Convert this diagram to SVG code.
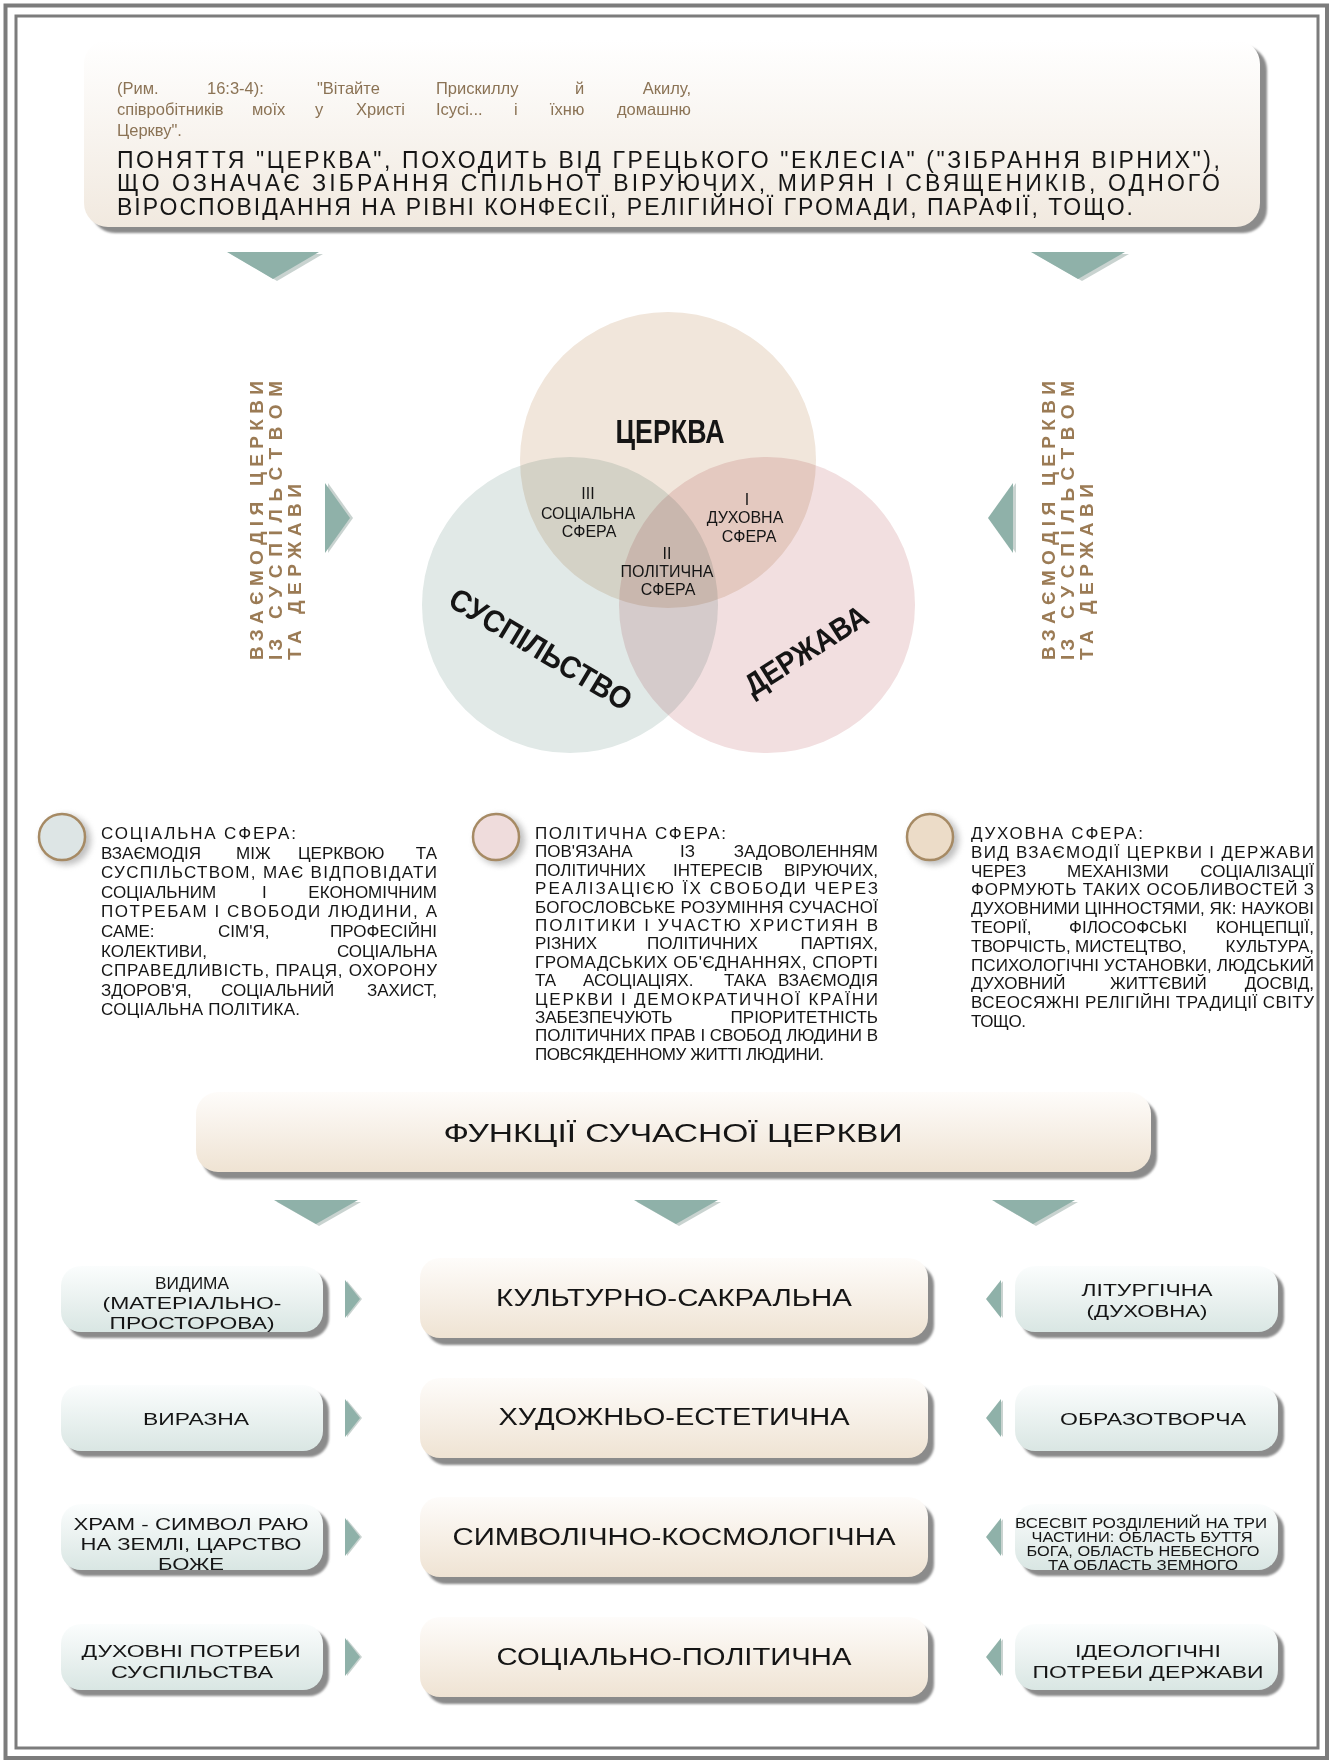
<svg xmlns="http://www.w3.org/2000/svg" width="1337" height="1762" viewBox="0 0 1337 1762">
<defs>
<linearGradient id="gTop" x1="0" y1="0" x2="0" y2="1"><stop offset="0" stop-color="#ffffff"/><stop offset="1" stop-color="#f1e9df"/></linearGradient>
<linearGradient id="gBeige" x1="0" y1="0" x2="0" y2="1"><stop offset="0" stop-color="#fefcfa"/><stop offset="1" stop-color="#efe3d3"/></linearGradient>
<linearGradient id="gTeal" x1="0" y1="0" x2="0" y2="1"><stop offset="0" stop-color="#fbfdfd"/><stop offset="1" stop-color="#d9e6e3"/></linearGradient>
<filter id="soft" x="-5%" y="-5%" width="110%" height="110%"><feGaussianBlur stdDeviation="1.2"/></filter>
<filter id="halo" x="-50%" y="-50%" width="200%" height="200%"><feGaussianBlur stdDeviation="3"/></filter>
</defs>
<style>
text{font-family:"Liberation Sans",Arial,sans-serif;fill:#151515}
.sh{fill:#8b8b8b;filter:url(#soft)}
.q{font-size:16.5px;fill:#8b7355}
.m{font-size:23px}
.b{font-size:17px}
.side{font-size:19px;font-weight:bold;fill:#9b7b55;letter-spacing:4px}
.vl{font-size:16px;text-anchor:middle}
.big{font-weight:bold;text-anchor:middle}
.c{text-anchor:middle}
.e{text-anchor:end}
.tri{fill:#8fb1a9}
.tris{fill:#c9d3d0}
.ctr{font-size:23px;text-anchor:middle}
.sm{font-size:17px;text-anchor:middle}
.xs{font-size:14px;text-anchor:middle}
.frame{fill:none;stroke:#7c7c7c}
</style>
<rect width="1337" height="1762" fill="#ffffff"/>
<rect class="frame" x="5.5" y="5.5" width="1321.5" height="1752.5" stroke-width="4"/>
<rect class="frame" x="16" y="16" width="1302" height="1732" stroke-width="3"/>

<g id="intro">
<rect class="sh" x="91" y="46" width="1176" height="187" rx="24"/>
<rect x="84" y="40" width="1176" height="187" rx="24" fill="url(#gTop)"/>
<text class="q" x="117" y="94">(Рим.</text>
<text class="q" x="207" y="94">16:3-4):</text>
<text class="q" x="317" y="94">"Вітайте</text>
<text class="q" x="436" y="94">Прискиллу</text>
<text class="q" x="575" y="94">й</text>
<text class="q e" x="691" y="94">Акилу,</text>
<text class="q" x="117" y="115">співробітників</text>
<text class="q" x="252" y="115">моїх</text>
<text class="q" x="315" y="115">у</text>
<text class="q" x="356" y="115">Христі</text>
<text class="q" x="436" y="115">Ісусі...</text>
<text class="q" x="514" y="115">і</text>
<text class="q" x="550" y="115">їхню</text>
<text class="q e" x="691" y="115">домашню</text>
<text class="q" x="117" y="136">Церкву".</text>
<text class="m" x="117" y="168" textLength="1103" lengthAdjust="spacing">ПОНЯТТЯ "ЦЕРКВА", ПОХОДИТЬ ВІД ГРЕЦЬКОГО "ЕКЛЕСІА" ("ЗІБРАННЯ ВІРНИХ"),</text>
<text class="m" x="117" y="191" textLength="1103" lengthAdjust="spacing">ЩО ОЗНАЧАЄ ЗІБРАННЯ СПІЛЬНОТ ВІРУЮЧИХ, МИРЯН І СВЯЩЕНИКІВ, ОДНОГО</text>
<text class="m" x="117" y="215" textLength="1016" lengthAdjust="spacing">ВІРОСПОВІДАННЯ НА РІВНІ КОНФЕСІЇ, РЕЛІГІЙНОЇ ГРОМАДИ, ПАРАФІЇ, ТОЩО.</text>
</g>

<g id="connectors">
<polygon class="tris" points="231,254 323,254 277,281"/>
<polygon class="tri" points="227,252 319,252 273,279"/>
<polygon class="tris" points="1035,254 1129,254 1082,281"/>
<polygon class="tri" points="1031,252 1125,252 1078,279"/>
<polygon class="tris" points="328,483 353,518 328,553"/>
<polygon class="tri" points="325,483 350,518 325,553"/>
<polygon class="tris" points="1016,483 991,518 1016,553"/>
<polygon class="tri" points="1013,483 988,518 1013,553"/>
<polygon class="tris" points="277,1202 361,1202 319,1226"/>
<polygon class="tri" points="274,1200 358,1200 316,1224"/>
<polygon class="tris" points="637,1202 721,1202 679,1226"/>
<polygon class="tri" points="634,1200 718,1200 676,1224"/>
<polygon class="tris" points="995,1202 1078,1202 1036,1226"/>
<polygon class="tri" points="992,1200 1075,1200 1033,1224"/>
<polygon class="tris" points="347,1281 362,1299 347,1318"/>
<polygon class="tri" points="345,1280 360,1299 345,1318"/>
<polygon class="tris" points="347,1400 362,1418 347,1437"/>
<polygon class="tri" points="345,1399 360,1418 345,1437"/>
<polygon class="tris" points="347,1519 362,1537 347,1556"/>
<polygon class="tri" points="345,1518 360,1537 345,1556"/>
<polygon class="tris" points="347,1639 362,1657 347,1676"/>
<polygon class="tri" points="345,1638 360,1657 345,1676"/>
<polygon class="tris" points="1003,1281 988,1299 1003,1318"/>
<polygon class="tri" points="1001,1280 986,1299 1001,1318"/>
<polygon class="tris" points="1003,1400 988,1418 1003,1437"/>
<polygon class="tri" points="1001,1399 986,1418 1001,1437"/>
<polygon class="tris" points="1003,1519 988,1537 1003,1556"/>
<polygon class="tri" points="1001,1518 986,1537 1001,1556"/>
<polygon class="tris" points="1003,1639 988,1657 1003,1676"/>
<polygon class="tri" points="1001,1638 986,1657 1001,1676"/>
</g>

<g id="side-left">
<text class="side" transform="translate(263,660) rotate(-90)" textLength="283" lengthAdjust="spacing">ВЗАЄМОДІЯ ЦЕРКВИ</text>
<text class="side" transform="translate(282,660) rotate(-90)">ІЗ</text>
<text class="side e" transform="translate(282,377) rotate(-90)" textLength="242" lengthAdjust="spacing">СУСПІЛЬСТВОМ</text>
<text class="side" transform="translate(301,660) rotate(-90)" textLength="180" lengthAdjust="spacing">ТА ДЕРЖАВИ</text>
</g>
<g id="side-right">
<text class="side" transform="translate(1055,660) rotate(-90)" textLength="283" lengthAdjust="spacing">ВЗАЄМОДІЯ ЦЕРКВИ</text>
<text class="side" transform="translate(1074,660) rotate(-90)">ІЗ</text>
<text class="side e" transform="translate(1074,377) rotate(-90)" textLength="242" lengthAdjust="spacing">СУСПІЛЬСТВОМ</text>
<text class="side" transform="translate(1093,660) rotate(-90)" textLength="180" lengthAdjust="spacing">ТА ДЕРЖАВИ</text>
</g>

<g id="venn" style="isolation:isolate">
<circle id="society" cx="570" cy="605" r="148" fill="#e1e9e7" style="mix-blend-mode:multiply"/>
<circle id="state" cx="767" cy="605" r="148" fill="#f2dfe0" style="mix-blend-mode:multiply"/>
<circle id="church" cx="668" cy="460" r="148" fill="#f1e6db" style="mix-blend-mode:multiply"/>
</g>
<g id="venn-labels">
<text class="big" x="670" y="443" font-size="33" textLength="109" lengthAdjust="spacingAndGlyphs">ЦЕРКВА</text>
<text class="big" transform="translate(541,649) rotate(31)" y="11" font-size="31" textLength="207" lengthAdjust="spacingAndGlyphs">СУСПІЛЬСТВО</text>
<text class="big" transform="translate(806,650) rotate(-32.5)" y="11" font-size="31" textLength="140" lengthAdjust="spacingAndGlyphs">ДЕРЖАВА</text>
<text class="vl" x="588" y="499">III</text>
<text class="vl" x="588" y="519">СОЦІАЛЬНА</text>
<text class="vl" x="589" y="537">СФЕРА</text>
<text class="vl" x="747" y="505">I</text>
<text class="vl" x="745" y="523">ДУХОВНА</text>
<text class="vl" x="749" y="542">СФЕРА</text>
<text class="vl" x="667" y="559">II</text>
<text class="vl" x="667" y="577">ПОЛІТИЧНА</text>
<text class="vl" x="668" y="595">СФЕРА</text>
</g>

<g id="sphere-social">
<circle cx="66" cy="840" r="25" fill="#8c8c8c" opacity="0.55" filter="url(#halo)"/>
<circle cx="62" cy="837" r="23" fill="#dde5e5" stroke="#a68a64" stroke-width="2.5"/>
<text class="b" x="101" y="839" textLength="195" lengthAdjust="spacing">СОЦІАЛЬНА СФЕРА:</text>
<text class="b" x="101" y="858.6">ВЗАЄМОДІЯ</text><text class="b" x="236" y="858.6">МІЖ</text><text class="b" x="298" y="858.6">ЦЕРКВОЮ</text><text class="b e" x="437" y="858.6">ТА</text>
<text class="b" x="101" y="878.2" textLength="336" lengthAdjust="spacing">СУСПІЛЬСТВОМ, МАЄ ВІДПОВІДАТИ</text>
<text class="b" x="101" y="897.8">СОЦІАЛЬНИМ</text><text class="b" x="262" y="897.8">І</text><text class="b e" x="437" y="897.8">ЕКОНОМІЧНИМ</text>
<text class="b" x="101" y="917.4" textLength="336" lengthAdjust="spacing">ПОТРЕБАМ І СВОБОДИ ЛЮДИНИ, А</text>
<text class="b" x="101" y="937">САМЕ:</text><text class="b" x="218" y="937">СІМ'Я,</text><text class="b e" x="437" y="937">ПРОФЕСІЙНІ</text>
<text class="b" x="101" y="956.6">КОЛЕКТИВИ,</text><text class="b e" x="437" y="956.6">СОЦІАЛЬНА</text>
<text class="b" x="101" y="976.2" textLength="336" lengthAdjust="spacing">СПРАВЕДЛИВІСТЬ, ПРАЦЯ, ОХОРОНУ</text>
<text class="b" x="101" y="995.8">ЗДОРОВ'Я,</text><text class="b" x="221" y="995.8">СОЦІАЛЬНИЙ</text><text class="b e" x="437" y="995.8">ЗАХИСТ,</text>
<text class="b" x="101" y="1015.4" textLength="199" lengthAdjust="spacing">СОЦІАЛЬНА ПОЛІТИКА.</text>
</g>

<g id="sphere-political">
<circle cx="500" cy="840" r="25" fill="#8c8c8c" opacity="0.55" filter="url(#halo)"/>
<circle cx="496" cy="837" r="23" fill="#efdcdc" stroke="#a68a64" stroke-width="2.5"/>
<text class="b" x="535" y="839" textLength="191" lengthAdjust="spacing">ПОЛІТИЧНА СФЕРА:</text>
<text class="b" x="535" y="857.4">ПОВ'ЯЗАНА</text><text class="b" x="680" y="857.4">ІЗ</text><text class="b e" x="878" y="857.4">ЗАДОВОЛЕННЯМ</text>
<text class="b" x="535" y="875.8">ПОЛІТИЧНИХ</text><text class="b" x="673" y="875.8">ІНТЕРЕСІВ</text><text class="b e" x="878" y="875.8">ВІРУЮЧИХ,</text>
<text class="b" x="535" y="894.2" textLength="343" lengthAdjust="spacing">РЕАЛІЗАЦІЄЮ ЇХ СВОБОДИ ЧЕРЕЗ</text>
<text class="b" x="535" y="912.6" textLength="343" lengthAdjust="spacing">БОГОСЛОВСЬКЕ РОЗУМІННЯ СУЧАСНОЇ</text>
<text class="b" x="535" y="931" textLength="343" lengthAdjust="spacing">ПОЛІТИКИ І УЧАСТЮ ХРИСТИЯН В</text>
<text class="b" x="535" y="949.4">РІЗНИХ</text><text class="b" x="647" y="949.4">ПОЛІТИЧНИХ</text><text class="b e" x="878" y="949.4">ПАРТІЯХ,</text>
<text class="b" x="535" y="967.8" textLength="343" lengthAdjust="spacing">ГРОМАДСЬКИХ ОБ'ЄДНАННЯХ, СПОРТІ</text>
<text class="b" x="535" y="986.2">ТА</text><text class="b" x="583" y="986.2">АСОЦІАЦІЯХ.</text><text class="b" x="724" y="986.2">ТАКА</text><text class="b e" x="878" y="986.2">ВЗАЄМОДІЯ</text>
<text class="b" x="535" y="1004.6" textLength="343" lengthAdjust="spacing">ЦЕРКВИ І ДЕМОКРАТИЧНОЇ КРАЇНИ</text>
<text class="b" x="535" y="1023">ЗАБЕЗПЕЧУЮТЬ</text><text class="b e" x="878" y="1023">ПРІОРИТЕТНІСТЬ</text>
<text class="b" x="535" y="1041.4" textLength="343" lengthAdjust="spacing">ПОЛІТИЧНИХ ПРАВ І СВОБОД ЛЮДИНИ В</text>
<text class="b" x="535" y="1059.8" textLength="289" lengthAdjust="spacing">ПОВСЯКДЕННОМУ ЖИТТІ ЛЮДИНИ.</text>
</g>

<g id="sphere-spiritual">
<circle cx="934" cy="840" r="25" fill="#8c8c8c" opacity="0.55" filter="url(#halo)"/>
<circle cx="930" cy="837" r="23" fill="#ecdcc8" stroke="#a68a64" stroke-width="2.5"/>
<text class="b" x="971" y="839" textLength="172" lengthAdjust="spacing">ДУХОВНА СФЕРА:</text>
<text class="b" x="971" y="857.8" textLength="343" lengthAdjust="spacing">ВИД ВЗАЄМОДІЇ ЦЕРКВИ І ДЕРЖАВИ</text>
<text class="b" x="971" y="876.6">ЧЕРЕЗ</text><text class="b" x="1067" y="876.6">МЕХАНІЗМИ</text><text class="b e" x="1314" y="876.6">СОЦІАЛІЗАЦІЇ</text>
<text class="b" x="971" y="895.4" textLength="343" lengthAdjust="spacing">ФОРМУЮТЬ ТАКИХ ОСОБЛИВОСТЕЙ З</text>
<text class="b" x="971" y="914.2" textLength="343" lengthAdjust="spacing">ДУХОВНИМИ ЦІННОСТЯМИ, ЯК: НАУКОВІ</text>
<text class="b" x="971" y="933">ТЕОРІЇ,</text><text class="b" x="1069" y="933">ФІЛОСОФСЬКІ</text><text class="b e" x="1314" y="933">КОНЦЕПЦІЇ,</text>
<text class="b" x="971" y="951.8">ТВОРЧІСТЬ,</text><text class="b" x="1075" y="951.8">МИСТЕЦТВО,</text><text class="b e" x="1314" y="951.8">КУЛЬТУРА,</text>
<text class="b" x="971" y="970.6" textLength="343" lengthAdjust="spacing">ПСИХОЛОГІЧНІ УСТАНОВКИ, ЛЮДСЬКИЙ</text>
<text class="b" x="971" y="989.4">ДУХОВНИЙ</text><text class="b" x="1110" y="989.4">ЖИТТЄВИЙ</text><text class="b e" x="1314" y="989.4">ДОСВІД,</text>
<text class="b" x="971" y="1008.2" textLength="343" lengthAdjust="spacing">ВСЕОСЯЖНІ РЕЛІГІЙНІ ТРАДИЦІЇ СВІТУ</text>
<text class="b" x="971" y="1027" textLength="55" lengthAdjust="spacing">ТОЩО.</text>
</g>

<g id="functions-title">
<rect class="sh" x="202" y="1099" width="955" height="80" rx="22"/>
<rect x="196" y="1092" width="955" height="80" rx="22" fill="url(#gBeige)"/>
<text class="c" x="673" y="1142" font-size="25" textLength="459" lengthAdjust="spacingAndGlyphs">ФУНКЦІЇ СУЧАСНОЇ ЦЕРКВИ</text>
</g>

<g id="center-1">
<rect class="sh" x="426" y="1265" width="508" height="80" rx="20"/>
<rect x="420" y="1258" width="508" height="80" rx="20" fill="url(#gBeige)"/>
<text class="ctr" x="674" y="1306" textLength="356" lengthAdjust="spacingAndGlyphs">КУЛЬТУРНО-САКРАЛЬНА</text>
</g>
<g id="center-2">
<rect class="sh" x="426" y="1385" width="508" height="80" rx="20"/>
<rect x="420" y="1378" width="508" height="80" rx="20" fill="url(#gBeige)"/>
<text class="ctr" x="674" y="1425" textLength="351" lengthAdjust="spacingAndGlyphs">ХУДОЖНЬО-ЕСТЕТИЧНА</text>
</g>
<g id="center-3">
<rect class="sh" x="426" y="1504" width="508" height="80" rx="20"/>
<rect x="420" y="1497" width="508" height="80" rx="20" fill="url(#gBeige)"/>
<text class="ctr" x="674" y="1545" textLength="443" lengthAdjust="spacingAndGlyphs">СИМВОЛІЧНО-КОСМОЛОГІЧНА</text>
</g>
<g id="center-4">
<rect class="sh" x="426" y="1624" width="508" height="80" rx="20"/>
<rect x="420" y="1617" width="508" height="80" rx="20" fill="url(#gBeige)"/>
<text class="ctr" x="674" y="1665" textLength="355" lengthAdjust="spacingAndGlyphs">СОЦІАЛЬНО-ПОЛІТИЧНА</text>
</g>

<g id="left-1">
<rect class="sh" x="67" y="1272" width="262" height="66" rx="20"/>
<rect x="61" y="1266" width="262" height="66" rx="20" fill="url(#gTeal)"/>
<text class="sm" x="192" y="1289" textLength="74" lengthAdjust="spacingAndGlyphs">ВИДИМА</text>
<text class="sm" x="192" y="1309" textLength="179" lengthAdjust="spacingAndGlyphs">(МАТЕРІАЛЬНО-</text>
<text class="sm" x="192" y="1329" textLength="165" lengthAdjust="spacingAndGlyphs">ПРОСТОРОВА)</text>
</g>
<g id="left-2">
<rect class="sh" x="67" y="1391" width="262" height="66" rx="20"/>
<rect x="61" y="1385" width="262" height="66" rx="20" fill="url(#gTeal)"/>
<text class="sm" x="196" y="1425" textLength="106" lengthAdjust="spacingAndGlyphs">ВИРАЗНА</text>
</g>
<g id="left-3">
<rect class="sh" x="67" y="1510" width="262" height="66" rx="20"/>
<rect x="61" y="1504" width="262" height="66" rx="20" fill="url(#gTeal)"/>
<text class="sm" x="191" y="1530" textLength="235" lengthAdjust="spacingAndGlyphs">ХРАМ - СИМВОЛ РАЮ</text>
<text class="sm" x="191" y="1550" textLength="221" lengthAdjust="spacingAndGlyphs">НА ЗЕМЛІ, ЦАРСТВО</text>
<text class="sm" x="191" y="1570" textLength="66" lengthAdjust="spacingAndGlyphs">БОЖЕ</text>
</g>
<g id="left-4">
<rect class="sh" x="67" y="1630" width="262" height="66" rx="20"/>
<rect x="61" y="1624" width="262" height="66" rx="20" fill="url(#gTeal)"/>
<text class="sm" x="191" y="1657" textLength="219" lengthAdjust="spacingAndGlyphs">ДУХОВНІ ПОТРЕБИ</text>
<text class="sm" x="192" y="1678" textLength="162" lengthAdjust="spacingAndGlyphs">СУСПІЛЬСТВА</text>
</g>

<g id="right-1">
<rect class="sh" x="1021" y="1272" width="263" height="66" rx="20"/>
<rect x="1015" y="1266" width="263" height="66" rx="20" fill="url(#gTeal)"/>
<text class="sm" x="1147" y="1296" textLength="131" lengthAdjust="spacingAndGlyphs">ЛІТУРГІЧНА</text>
<text class="sm" x="1147" y="1317" textLength="121" lengthAdjust="spacingAndGlyphs">(ДУХОВНА)</text>
</g>
<g id="right-2">
<rect class="sh" x="1021" y="1391" width="263" height="66" rx="20"/>
<rect x="1015" y="1385" width="263" height="66" rx="20" fill="url(#gTeal)"/>
<text class="sm" x="1153" y="1425" textLength="186" lengthAdjust="spacingAndGlyphs">ОБРАЗОТВОРЧА</text>
</g>
<g id="right-3">
<rect class="sh" x="1021" y="1510" width="263" height="66" rx="20"/>
<rect x="1015" y="1504" width="263" height="66" rx="20" fill="url(#gTeal)"/>
<text class="xs" x="1141" y="1528" textLength="252" lengthAdjust="spacingAndGlyphs">ВСЕСВІТ РОЗДІЛЕНИЙ НА ТРИ</text>
<text class="xs" x="1142" y="1542" textLength="221" lengthAdjust="spacingAndGlyphs">ЧАСТИНИ: ОБЛАСТЬ БУТТЯ</text>
<text class="xs" x="1143" y="1556" textLength="233" lengthAdjust="spacingAndGlyphs">БОГА, ОБЛАСТЬ НЕБЕСНОГО</text>
<text class="xs" x="1143" y="1570" textLength="190" lengthAdjust="spacingAndGlyphs">ТА ОБЛАСТЬ ЗЕМНОГО</text>
</g>
<g id="right-4">
<rect class="sh" x="1021" y="1630" width="263" height="66" rx="20"/>
<rect x="1015" y="1624" width="263" height="66" rx="20" fill="url(#gTeal)"/>
<text class="sm" x="1148" y="1657" textLength="146" lengthAdjust="spacingAndGlyphs">ІДЕОЛОГІЧНІ</text>
<text class="sm" x="1148" y="1678" textLength="231" lengthAdjust="spacingAndGlyphs">ПОТРЕБИ ДЕРЖАВИ</text>
</g>
</svg>
